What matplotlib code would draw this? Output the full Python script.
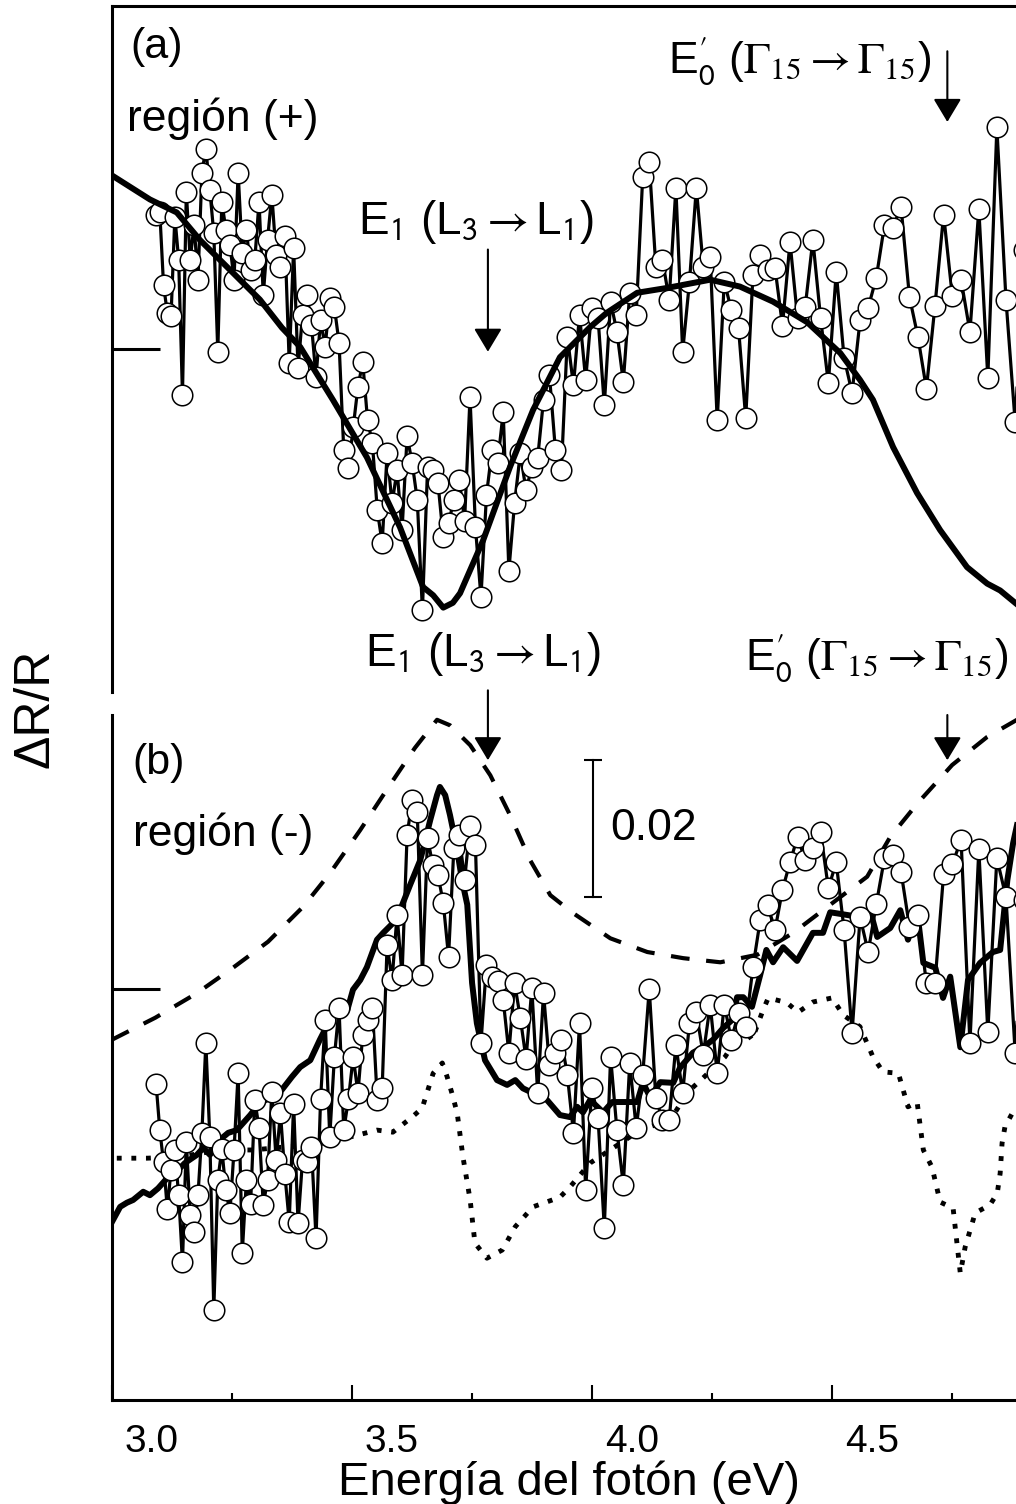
import numpy as np
import matplotlib
matplotlib.use('Agg')
import matplotlib.pyplot as plt
from matplotlib.transforms import ScaledTranslation

plt.rcParams['font.family'] = ['Liberation Sans', 'DejaVu Sans']
plt.rcParams['mathtext.fontset'] = 'stix'

# monochromator scan: 1 nm steps, 401 nm -> 253 nm
wavelength = np.arange(401, 252, -1)
energy = 1239.84 / wavelength

# (a) region (+): measured dR/R, units of 1e-3, one value per wavelength
dr_a = [19.6, 19.9, 9.3, 5.3, 4.8, 19.3, 13.0, -6.7, 22.9, 13.0,
        18.1, 10.1, 25.7, 29.2, 23.2, 16.9, -0.4, 21.5, 17.4, 15.2,
        10.1, 25.7, 14.0, 17.4, 11.5, 13.0, 21.5, 7.9, 15.9, 22.5,
        13.7, 12.0, 16.4, -2.0, 14.7, -2.8, 5.0, 7.9, 3.5, -4.1,
        4.2, 0.3, 7.4, 6.1, 0.9, -14.7, -17.4, -11.4, -5.5, -1.9,
        -10.4, -13.7, -23.5, -28.3, -15.2, -22.5, -17.7, -26.4, -12.7, -16.6,
        -22.0, -38.1, -17.2, -17.7, -19.6, -27.4, -25.4, -22.0, -19.1, -25.0,
        -7.0, -26.0, -36.2, -21.3, -14.7, -16.6, -9.2, -32.3, -22.5, -15.2,
        -20.6, -17.2, -15.9, -7.4, -3.8, -14.7, -17.7, 1.8, -5.3, 5.0,
        -4.5, 6.0, 4.5, -8.2, 6.9, 2.5, -4.8, 8.2, 5.0, 25.1,
        27.2, 12.0, 13.0, 7.2, 23.5, -0.4, 9.8, 23.5, 12.0, 13.4,
        -10.4, 9.8, 5.7, 3.1, -10.1, 10.8, 13.7, 11.5, 11.8, 3.4,
        15.6, 4.5, 6.1, 15.9, 4.5, -5.0, 11.2, -1.3, -6.4, 4.2,
        6.0, 10.4, 18.1, 17.7, 20.7, 7.6, 1.8, -5.8, 6.3, 19.6,
        7.7, 10.1, 2.5, 20.4, -4.2, 32.3, 7.2, -10.7, 14.5]

# (a) calculated spectrum
calc_a_E = [3.000, 3.079, 3.135, 3.183, 3.252, 3.308, 3.354, 3.392, 3.460, 3.531,
            3.600, 3.648, 3.669, 3.690, 3.710, 3.725, 3.773, 3.829, 3.877, 3.933,
            3.996, 4.031, 4.094, 4.156, 4.246, 4.308, 4.377, 4.448, 4.517, 4.558,
            4.585, 4.627, 4.677, 4.725, 4.781, 4.823, 4.850, 4.883]
calc_a = [25.3, 21.8, 19.9, 15.9, 11.1, 7.2, 3.1, 0.3, -7.4, -15.8,
          -26.0, -34.7, -35.9, -37.7, -37.0, -35.6, -27.9, -17.2, -8.9, -1.2,
          3.2, 5.3, 8.2, 8.9, 10.1, 9.1, 6.9, 3.9, -0.6, -4.5,
          -7.4, -14.3, -21.0, -26.4, -31.8, -34.2, -35.2, -37.1]

# (b) region (-): measured dR/R, units of 1e-3
dr_b = [-13.9, -20.6, -25.3, -32.1, -26.4, -23.5, -30.1, -39.9, -22.3, -33.0,
        -35.5, -30.1, -21.0, -7.9, -21.6, -46.9, -27.9, -23.4, -29.3, -32.7,
        -23.5, -12.3, -38.5, -27.9, -31.4, -16.2, -20.3, -31.5, -27.9, -15.0,
        -25.0, -18.1, -27.0, -34.0, -16.8, -34.2, -25.0, -25.3, -23.1, -36.4,
        -16.1, -4.5, -21.6, -9.9, -2.8, -20.6, -16.1, -9.9, -15.2, -6.7,
        -4.5, -2.8, -16.2, -14.5, 6.4, 1.3, 10.8, 2.0, 22.5, 27.6,
        25.8, 2.0, 22.0, 18.1, 16.6, 12.6, 4.7, 20.6, 22.5, 15.9,
        23.8, 21.0, -7.9, 3.5, 1.8, 1.2, -1.6, -9.3, 0.9, -4.2,
        -10.2, 0.1, -15.2, -0.6, -11.1, -9.3, -7.4, -12.6, -21.0, -5.0,
        -29.3, -14.5, -18.8, -34.9, -9.9, -20.6, -28.6, -10.8, -20.3, -12.6,
        0.0, -15.9, -19.1, -19.1, -8.2, -15.2, -5.0, -3.4, -9.6, -2.3,
        -12.3, -2.3, -7.4, -3.5, -5.5, 3.2, 10.1, 12.3, 8.6, 14.5,
        18.5, 22.2, 18.8, 20.6, 22.9, 14.7, 18.5, 8.6, -6.4, 10.5,
        5.4, 12.4, 19.1, 19.6, 17.1, 9.1, 10.8, 0.9, 0.9, 16.8,
        18.2, 21.8, -7.9, 20.4, -6.3, 19.1, 13.4, -9.3, 13.0]

# (b) calculated spectrum (thick)
calc_b_E = [3.000, 3.017, 3.031, 3.044, 3.065, 3.079, 3.096, 3.115, 3.131, 3.152,
            3.177, 3.190, 3.204, 3.225, 3.242, 3.260, 3.288, 3.308, 3.329, 3.354,
            3.375, 3.392, 3.413, 3.433, 3.454, 3.465, 3.490, 3.502, 3.517, 3.531,
            3.552, 3.565, 3.585, 3.600, 3.621, 3.642, 3.663, 3.677, 3.683, 3.694,
            3.704, 3.719, 3.729, 3.740, 3.750, 3.760, 3.777, 3.802, 3.823, 3.840,
            3.856, 3.877, 3.906, 3.933, 3.954, 3.969, 3.981, 3.996, 4.023, 4.042,
            4.094, 4.106, 4.121, 4.142, 4.169, 4.183, 4.210, 4.231, 4.252, 4.273,
            4.292, 4.302, 4.315, 4.333, 4.350, 4.363, 4.377, 4.398, 4.427, 4.460,
            4.481, 4.496, 4.523, 4.558, 4.579, 4.594, 4.621, 4.642, 4.658, 4.677,
            4.690, 4.715, 4.731, 4.746, 4.767, 4.783, 4.808, 4.835, 4.850, 4.865,
            4.877, 4.885]
calc_b = [-34.0, -31.8, -31.2, -30.8, -29.6, -30.1, -29.1, -27.6, -26.9, -25.4,
          -24.2, -23.2, -24.2, -22.0, -21.0, -20.6, -18.4, -16.6, -15.9, -14.7,
          -12.8, -11.4, -10.4, -7.4, -4.5, -3.5, -3.1, -0.1, 1.3, 3.2,
          7.2, 8.2, 9.6, 11.5, 15.2, 18.8, 24.7, 28.3, 29.5, 28.3,
          25.4, 20.3, 15.9, 12.3, 0.9, -5.0, -10.4, -13.3, -14.0, -13.3,
          -14.5, -15.2, -16.2, -18.4, -18.7, -17.2, -18.0, -16.2, -18.0, -16.5,
          -16.5, -13.7, -15.8, -13.6, -13.7, -11.5, -9.3, -8.5, -7.4, -5.7,
          -4.5, -1.2, -1.2, -2.6, 2.0, 5.7, 3.9, 6.1, 4.1, 8.2,
          8.2, 11.2, 10.9, 10.5, 11.5, 7.6, 8.9, 11.5, 7.2, 11.4,
          3.8, 3.1, -1.3, 1.8, -8.5, 1.3, 3.8, 5.4, 5.7, 15.9,
          21.3, 23.9]

# (b) dashed curve
dash_E = [3.000, 3.090, 3.177, 3.252, 3.325, 3.398, 3.454, 3.517, 3.579, 3.631,
          3.677, 3.704, 3.746, 3.788, 3.829, 3.871, 3.913, 3.960, 4.038, 4.115,
          4.190, 4.267, 4.344, 4.419, 4.496, 4.573, 4.621, 4.679, 4.750, 4.823,
          4.885]
dash_v = [-7.4, -4.2, -0.6, 3.1, 6.9, 12.0, 16.9, 23.2, 29.8, 35.2,
          39.3, 38.5, 35.6, 31.2, 25.4, 18.8, 13.7, 11.1, 7.4, 5.4,
          4.5, 3.9, 5.0, 8.2, 12.3, 16.4, 22.2, 27.2, 32.7, 36.8,
          39.3]

# (b) dotted curve
dot_E = [3.010, 3.073, 3.142, 3.225, 3.294, 3.354, 3.419, 3.485, 3.552, 3.585,
         3.625, 3.646, 3.669, 3.688, 3.698, 3.708, 3.719, 3.731, 3.746, 3.756,
         3.781, 3.813, 3.840, 3.877, 3.933, 3.954, 3.996, 4.044, 4.100, 4.163,
         4.200, 4.231, 4.277, 4.315, 4.333, 4.356, 4.367, 4.406, 4.429, 4.460,
         4.500, 4.523, 4.558, 4.585, 4.606, 4.638, 4.658, 4.677, 4.690, 4.708,
         4.725, 4.752, 4.760, 4.767, 4.777, 4.798, 4.829, 4.844, 4.850, 4.854,
         4.860, 4.881]
dot_v = [-24.7, -24.7, -24.5, -23.5, -23.5, -23.1, -22.8, -21.8, -20.6, -20.9,
         -18.7, -17.4, -12.3, -10.8, -12.8, -15.2, -18.1, -24.5, -30.8, -37.1,
         -39.3, -38.1, -34.7, -31.8, -30.4, -28.9, -25.4, -23.2, -20.6, -19.1,
         -15.0, -13.0, -9.9, -5.7, -7.4, -3.1, -1.3, -2.0, -3.4, -1.9,
         -1.3, -3.8, -5.5, -9.9, -12.1, -12.3, -17.2, -16.5, -23.5, -26.0,
         -31.1, -32.0, -37.1, -41.5, -37.7, -32.7, -31.5, -29.8, -26.9, -22.5,
         -20.1, -17.4]

# transition energies marked with arrows (eV)
E1_pos = 3.783
E0p_pos = 4.740
scale_bar = 0.02

W, H = 1016.0, 1504.0


def fpos(px, py):
    return px / W, 1 - py / H


fig = plt.figure(figsize=(W / 100, H / 100), dpi=100)
ax_a = fig.add_axes([112 / W, 1 - 692 / H, 904 / W, 686 / H])
ax_b = fig.add_axes([112 / W, 1 - 1400 / H, 904 / W, 685 / H])

for ax in (ax_a, ax_b):
    ax.set_xlim(3.0, 4.883)
    ax.spines['right'].set_visible(False)
    for s in ax.spines.values():
        s.set_linewidth(2.2)
    ax.set_yticks([0.0])
    ax.set_yticklabels([])
    ax.tick_params(axis='y', direction='in', length=34.5, width=2.2)

ax_a.set_ylim(-0.05, 0.05)
ax_a.spines['bottom'].set_visible(False)
ax_a.set_xticks([])

ax_b.set_ylim(-0.06, 0.04)
ax_b.spines['top'].set_visible(False)
ax_b.set_xticks([3.0, 3.5, 4.0, 4.5])
ax_b.set_xticks([3.25, 3.75, 4.25, 4.75], minor=True)
ax_b.set_xticklabels(['3.0', '3.5', '4.0', '4.5'], fontsize=28)
ax_b.tick_params(axis='x', which='major', direction='in', length=11, width=1.5, pad=17)
ax_b.tick_params(axis='x', which='minor', direction='in', length=5, width=1.5)
shift = ScaledTranslation(0.40, 0, fig.dpi_scale_trans)
for lab in ax_b.get_xticklabels():
    lab.set_transform(lab.get_transform() + shift)

k = 1e-3
circ = dict(ls='none', marker='o', ms=14.8, mfc='white', mec='k', mew=1.1)

# panel (a)
ax_a.plot(energy, np.array(dr_a) * k, color='k', lw=2.3, zorder=2)
ax_a.plot(energy, np.array(dr_a) * k, zorder=3, **circ)
ax_a.plot(calc_a_E, np.array(calc_a) * k, color='k', lw=4.3, zorder=4)

# panel (b)
ax_b.plot(dash_E, np.array(dash_v) * k, color='k', lw=3, ls=(0, (4.5, 4)), zorder=1)
ax_b.plot(dot_E, np.array(dot_v) * k, color='k', lw=3.5, ls=(0, (1, 2)), zorder=1)
ax_b.plot(energy, np.array(dr_b) * k, color='k', lw=2.3, zorder=2)
ax_b.plot(calc_b_E, np.array(calc_b) * k, color='k', lw=4.3, zorder=2.5)
ax_b.plot(energy, np.array(dr_b) * k, zorder=3, **circ)

# arrows at E1 and E0'
arw = dict(arrowstyle='-|>,head_length=0.4,head_width=0.24', mutation_scale=36,
           lw=1.5, color='k', shrinkA=0, shrinkB=0)
ax_a.annotate('', xy=(E1_pos, -0.0004), xytext=(E1_pos, 0.0145), arrowprops=arw)
ax_a.annotate('', xy=(E0p_pos, 0.0331), xytext=(E0p_pos, 0.0434), arrowprops=arw)
ax_b.annotate('', xy=(E1_pos, 0.0334), xytext=(E1_pos, 0.0436), arrowprops=arw,
              annotation_clip=False)
ax_b.annotate('', xy=(E0p_pos, 0.0334), xytext=(E0p_pos, 0.0400), arrowprops=arw,
              annotation_clip=False)

# 0.02 scale bar
sb_x, sb_y0 = 4.002, 0.0134
ax_b.plot([sb_x, sb_x], [sb_y0, sb_y0 + scale_bar], color='k', lw=1.5)
ax_b.plot([sb_x, sb_x], [sb_y0, sb_y0 + scale_bar], ls='none', marker='_',
          ms=12.5, mew=1.5, color='k')
ax_b.text(4.037, sb_y0 + scale_bar / 2, '0.02', fontsize=32, va='center', ha='left')

# labels
lbl_E1 = r'E$_\mathsf{1}$ (L$_\mathsf{3}\rightarrow$L$_\mathsf{1}$)'
lbl_E0 = r'E$_\mathsf{0}^{\prime}$ ($\Gamma_{15}\rightarrow\Gamma_{15}$)'

fig.text(*fpos(130, 47), '(a)', fontsize=31, va='center', ha='left')
fig.text(*fpos(127, 119), 'región (+)', fontsize=32, va='center', ha='left')
fig.text(*fpos(358, 234), lbl_E1, fontsize=33, va='baseline', ha='left')
fig.text(*fpos(668, 73), lbl_E0, fontsize=32, va='baseline', ha='left')

fig.text(*fpos(132, 763), '(b)', fontsize=31, va='center', ha='left')
fig.text(*fpos(133, 834), 'región (-)', fontsize=32, va='center', ha='left')
fig.text(*fpos(365, 666), lbl_E1, fontsize=33, va='baseline', ha='left')
fig.text(*fpos(745, 670), lbl_E0, fontsize=32, va='baseline', ha='left')

fig.text(*fpos(36, 708), 'ΔR/R', fontsize=36, rotation=90, va='center', ha='center')
fig.text(*fpos(569, 1495), 'Energía del fotón (eV)', fontsize=34, va='baseline', ha='center')

fig.savefig('out.png', dpi=100)
